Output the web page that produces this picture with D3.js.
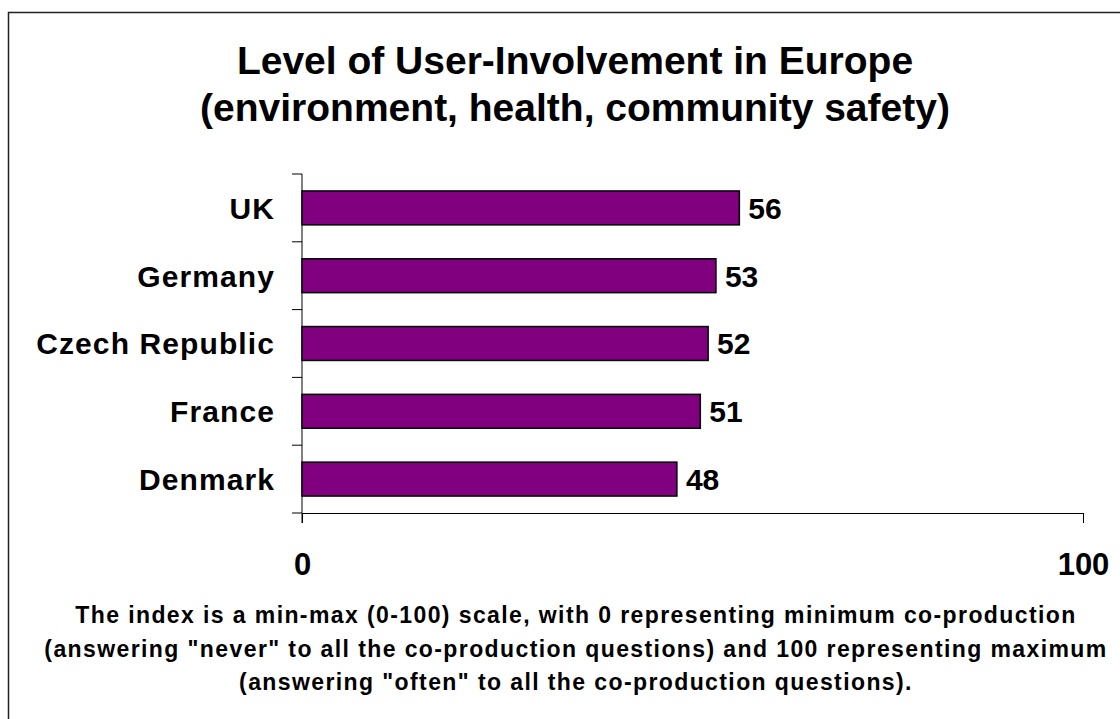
<!DOCTYPE html>
<html>
<head>
<meta charset="utf-8">
<script src="https://cdn.jsdelivr.net/npm/d3@7"></script>
<style>
  body { margin: 0; background: #fff; }
  svg { display: block; font-family: "Liberation Sans", Arial, sans-serif; }
</style>
</head>
<body>
<svg id="chart" width="1120" height="719"></svg>
<script>
const countries = ["UK", "Germany", "Czech Republic", "France", "Denmark"];
const scores = [56, 53, 52, 51, 48];
const xTicks = [0, 100];
const titleLines = ["Level of User-Involvement in Europe", "(environment, health, community safety)"];
const noteLines = [
  "The index is a min-max (0-100) scale, with 0 representing minimum co-production",
  "(answering \"never\" to all the co-production questions) and 100 representing maximum",
  "(answering \"often\" to all the co-production questions)."
];

const svg = d3.select("#chart");

// outer frame (runs off the right/bottom edge)
svg.append("rect")
  .attr("x", 8.5).attr("y", 12.5)
  .attr("width", 1130).attr("height", 730)
  .attr("fill", "none").attr("stroke", "#222").attr("stroke-width", 1.5);

const margin = { left: 302, right: 1083, top: 174, bottom: 513 };

const x = d3.scaleLinear().domain([0, 100]).range([margin.left, margin.right]);
const y = d3.scaleBand().domain(countries).range([margin.top, margin.bottom]).paddingInner(0.5).paddingOuter(0.25);

// title
svg.append("g").selectAll("text")
  .data(titleLines)
  .join("text")
  .attr("x", 575)
  .attr("y", (d, i) => 74 + i * 47)
  .attr("text-anchor", "middle")
  .attr("font-size", 39)
  .attr("font-weight", "bold")
  .text(d => d);

// y axis with ticks between categories
const yAxis = svg.append("g");
yAxis.append("line")
  .attr("x1", margin.left).attr("x2", margin.left)
  .attr("y1", margin.top).attr("y2", margin.bottom + 10)
  .attr("stroke", "#000");
const step = y.step();
yAxis.selectAll("line.tick")
  .data(d3.range(countries.length + 1))
  .join("line")
  .attr("class", "tick")
  .attr("x1", margin.left - 10).attr("x2", margin.left)
  .attr("y1", i => margin.top + i * step).attr("y2", i => margin.top + i * step)
  .attr("stroke", "#000");

// x axis
const xAxis = svg.append("g")
  .attr("transform", `translate(0,${margin.bottom})`)
  .call(d3.axisBottom(x).tickValues(xTicks).tickSize(10).tickSizeOuter(0).tickPadding(30));
xAxis.select(".domain").attr("stroke", "#000");
xAxis.selectAll(".tick line").attr("stroke", "#000");
xAxis.selectAll(".tick text")
  .attr("font-size", 31)
  .attr("font-weight", "bold")
  .attr("font-family", "\"Liberation Sans\", Arial, sans-serif")
  .attr("fill", "#000");

// bars
svg.append("g").selectAll("rect")
  .data(countries)
  .join("rect")
  .attr("x", x(0))
  .attr("y", d => y(d))
  .attr("width", (d, i) => x(scores[i]) - x(0))
  .attr("height", y.bandwidth())
  .attr("fill", "#800080")
  .attr("stroke", "#000")
  .attr("stroke-width", 1.5);

// value labels
svg.append("g").selectAll("text")
  .data(countries)
  .join("text")
  .attr("x", (d, i) => x(scores[i]) + 9)
  .attr("y", d => y(d) + y.bandwidth() / 2)
  .attr("dy", "0.36em")
  .attr("font-size", 30)
  .attr("font-weight", "bold")
  .text((d, i) => scores[i]);

// category labels
svg.append("g").selectAll("text")
  .data(countries)
  .join("text")
  .attr("x", margin.left - 27)
  .attr("y", d => y(d) + y.bandwidth() / 2)
  .attr("dy", "0.36em")
  .attr("text-anchor", "end")
  .attr("font-size", 30)
  .attr("letter-spacing", 1.1)
  .attr("font-weight", "bold")
  .text(d => d);

// footnote
svg.append("g").selectAll("text")
  .data(noteLines)
  .join("text")
  .attr("x", 576)
  .attr("y", (d, i) => 623 + i * 33.5)
  .attr("text-anchor", "middle")
  .attr("font-size", 23)
  .attr("letter-spacing", 1.4)
  .attr("font-weight", "bold")
  .text(d => d);
</script>
</body>
</html>
